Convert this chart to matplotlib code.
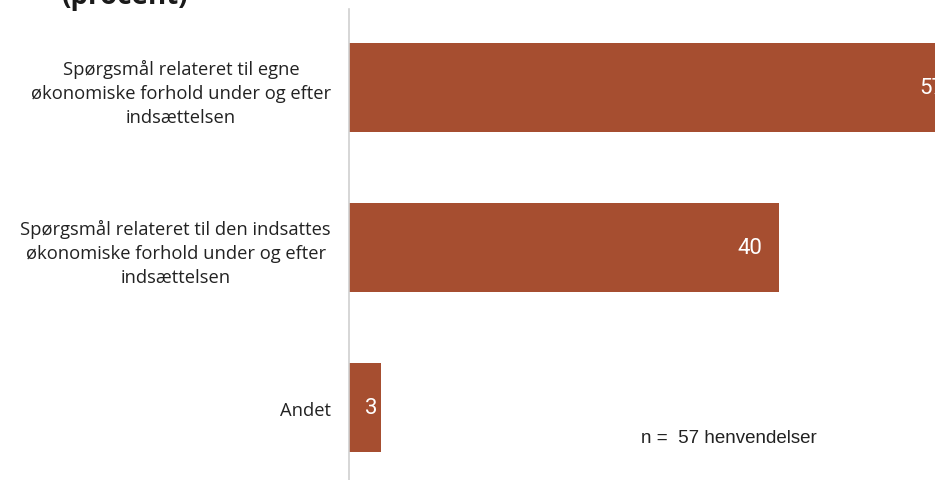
import matplotlib.pyplot as plt
import numpy as np

categories = [
    "Spørgsmål relateret til egne\nøkonomiske forhold under og efter\nindsættelsen",
    "Spørgsmål relateret til den indsattes\nøkonomiske forhold under og efter\nindsættelsen",
    "Andet",
]
values = [57, 40, 3]
bar_color = "#A64E30"

fig = plt.figure(figsize=(9.35, 4.81), dpi=100)
ax = fig.add_axes([349 / 935, 0, 586 / 935, 471 / 481])

y = np.arange(len(values))
ax.barh(y, values, height=0.556, color=bar_color)
ax.set_xlim(0, 54.5)
ax.set_ylim(2.4531, -0.4906)

ax.set_yticks(y)
ax.set_yticklabels(categories, fontsize=13.2, family="Open Sans", color="#222222",
                   multialignment="center", linespacing=1.42)
ax.tick_params(axis="y", length=0, pad=13)
ax.set_xticks([])
for s in ["top", "right", "bottom"]:
    ax.spines[s].set_visible(False)
ax.spines["left"].set_color("#d0d0d0")
ax.spines["left"].set_linewidth(1.2)

# value labels inside the bar ends
for yi, v in zip(y, values):
    off = -17 if v >= 5 else -4
    ax.annotate(str(v), xy=(v, yi), xytext=(off, 0), textcoords="offset pixels",
                ha="right", va="center", color="white", fontsize=16,
                family="Roboto", annotation_clip=False)

fig.text(641 / 935, 1 - 439 / 481, "n =  57 henvendelser", fontsize=13.5,
         family="Liberation Sans", color="#222222", va="center", ha="left")
fig.text(62 / 935, 1 - 4 / 481, "(procent)", fontsize=20, fontweight="bold",
         family="Open Sans", color="#1a1a1a", va="baseline", ha="left")

fig.savefig("out.png", dpi=100)
